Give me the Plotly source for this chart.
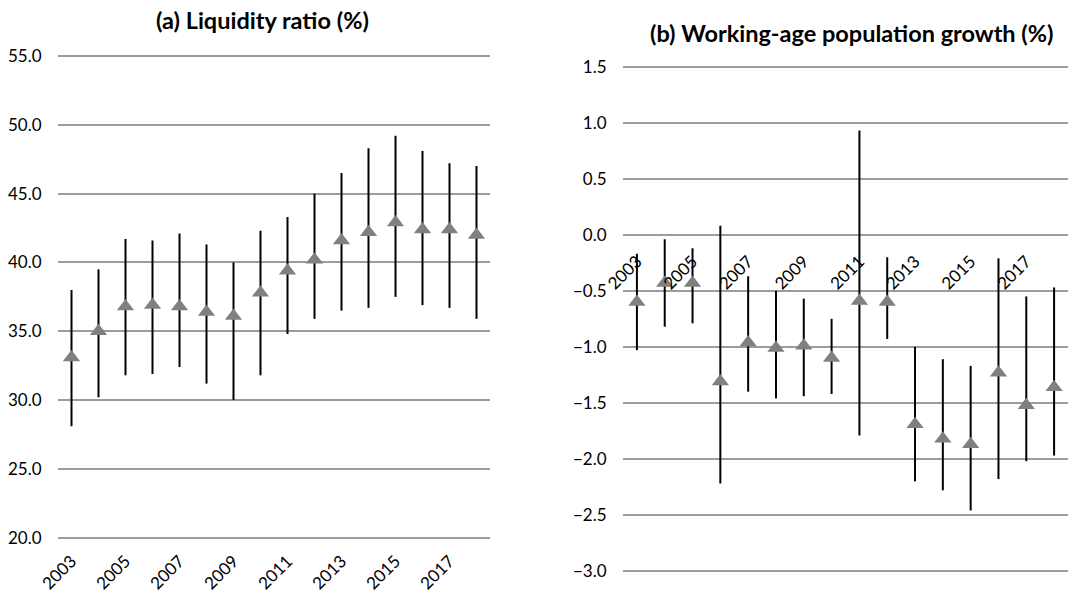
import plotly.graph_objects as go

years = [str(y) for y in range(2003, 2019)]
label_years = years[::2]

# (a) Liquidity ratio (%): point estimate with lower / upper bounds
liq_mid = [33.1, 35.0, 36.8, 36.9, 36.8, 36.4, 36.1, 37.8, 39.4, 40.2, 41.6, 42.2, 42.9, 42.4, 42.4, 42.0]
liq_lo = [28.1, 30.2, 31.8, 31.9, 32.4, 31.2, 30.0, 31.8, 34.8, 35.9, 36.5, 36.7, 37.5, 36.9, 36.7, 35.9]
liq_hi = [38.0, 39.5, 41.7, 41.6, 42.1, 41.3, 40.0, 42.3, 43.3, 45.0, 46.5, 48.3, 49.2, 48.1, 47.2, 47.0]

# (b) Working-age population growth (%)
pop_mid = [-0.60, -0.43, -0.43, -1.31, -0.96, -1.01, -0.99, -1.10, -0.59, -0.60, -1.69, -1.82, -1.87, -1.23, -1.52, -1.36]
pop_lo = [-1.03, -0.82, -0.79, -2.22, -1.40, -1.46, -1.44, -1.42, -1.79, -0.93, -2.20, -2.28, -2.46, -2.18, -2.02, -1.97]
pop_hi = [-0.17, -0.04, -0.12, 0.08, -0.37, -0.50, -0.57, -0.75, 0.93, -0.20, -1.00, -1.11, -1.17, -0.21, -0.55, -0.47]

FONT = "Lato, Calibri, sans-serif"
GRID = "#9c9c9c"
MARK = "#808080"


def series(mid, lo, hi, xa, ya):
    return go.Scatter(
        x=years, y=mid, xaxis=xa, yaxis=ya, mode="markers",
        marker=dict(symbol="triangle-up", size=15, color=MARK),
        error_y=dict(type="data", symmetric=False,
                     array=[h - m for h, m in zip(hi, mid)],
                     arrayminus=[m - l for m, l in zip(mid, lo)],
                     color="black", thickness=2, width=0),
        showlegend=False, hoverinfo="skip",
    )


fig = go.Figure([
    series(liq_mid, liq_lo, liq_hi, "x", "y"),
    series(pop_mid, pop_lo, pop_hi, "x2", "y2"),
])

W, H = 1073, 593
PAD = 3  # px of room so the outermost gridlines are kept
a_ppu = (537.7 - 56) / 35.0
b_ppu = (571 - 66.7) / 4.5
ya_range = [20 - PAD / a_ppu, 55 + PAD / a_ppu]
yb_range = [-3.0 - PAD / b_ppu, 1.5 + PAD / b_ppu]
ya_dom = [(H - 537.7 - PAD) / H, (H - 56 + PAD) / H]
yb_dom = [(H - 571 - PAD) / H, (H - 66.7 + PAD) / H]
# category axis of panel (b) crosses the value axis at zero
xb_pos = yb_dom[0] + (0 - yb_range[0]) / (yb_range[1] - yb_range[0]) * (yb_dom[1] - yb_dom[0])

tick_font = dict(family=FONT, size=17, color="black")

fig.update_layout(
    width=W, height=H,
    margin=dict(l=0, r=0, t=0, b=0),
    paper_bgcolor="white", plot_bgcolor="white",
    font=dict(family=FONT, color="black"),
    xaxis=dict(domain=[58 / W, 490 / W], anchor="y", type="category",
               categoryorder="array", categoryarray=years, automargin=False,
               range=[-0.5, 15.5], tickvals=label_years, tickangle=-45,
               tickfont=tick_font, showgrid=False, showline=False,
               ticks="outside", ticklen=3, tickcolor="rgba(0,0,0,0)"),
    yaxis=dict(domain=ya_dom, anchor="x", range=ya_range, tickvals=[20, 25, 30, 35, 40, 45, 50, 55],
               tickformat=".1f", tickfont=tick_font, showgrid=True, automargin=False,
               gridcolor=GRID, gridwidth=1.5, zeroline=False, showline=False,
               ticks="outside", ticklen=12, tickcolor="rgba(0,0,0,0)"),
    xaxis2=dict(domain=[623 / W, 1068 / W], anchor="free", position=xb_pos,
                type="category", categoryorder="array", categoryarray=years,
                range=[-0.5, 15.5], tickvals=label_years, tickangle=-45, automargin=False,
                tickfont=tick_font, showgrid=False, showline=False,
                ticks="outside", ticklen=9, tickcolor="rgba(0,0,0,0)"),
    yaxis2=dict(domain=yb_dom, anchor="x2", range=yb_range,
                tickvals=[-3.0, -2.5, -2.0, -1.5, -1.0, -0.5, 0.0, 0.5, 1.0, 1.5],
                tickformat=".1f", tickfont=tick_font, showgrid=True, automargin=False,
                gridcolor=GRID, gridwidth=1.5, zeroline=False, showline=False,
                ticks="outside", ticklen=12, tickcolor="rgba(0,0,0,0)"),
    annotations=[
        dict(text="<b>(a) Liquidity ratio (%)</b>", xref="paper", yref="paper",
             x=262 / W, y=(H - 20) / H, xanchor="center", yanchor="middle",
             showarrow=False, font=dict(family=FONT, size=23.5, color="black")),
        dict(text="<b>(b) Working-age population growth (%)</b>", xref="paper", yref="paper",
             x=852 / W, y=(H - 33) / H, xanchor="center", yanchor="middle",
             showarrow=False, font=dict(family=FONT, size=23.5, color="black")),
    ],
)

fig.write_html("out.html")
